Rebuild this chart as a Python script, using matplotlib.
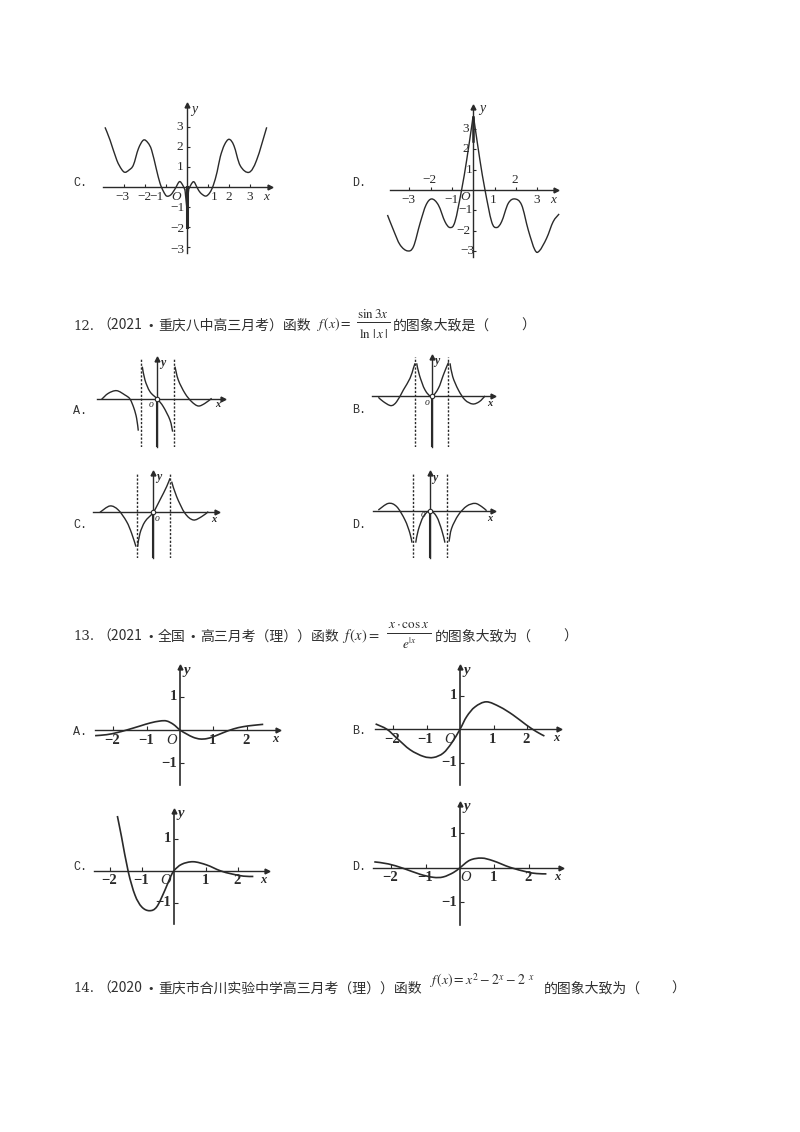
import matplotlib
matplotlib.use('Agg')
import matplotlib.pyplot as plt
from matplotlib.lines import Line2D
from matplotlib.patches import PathPatch
from matplotlib.path import Path

plt.rcParams['font.family'] = ['Noto Sans CJK SC', 'DejaVu Sans']
plt.rcParams['mathtext.fontset'] = 'stix'

W, H = 800, 1132
INK = '#2a2a2a'
SERIF = ['Liberation Serif', 'DejaVu Serif']

# page top, question 11 options
c11_left_x = [-3.89, -3.65, -3.33, -3.1, -2.94, -2.75, -2.54, -2.3, -2.06, -1.85, -1.67, -1.45, -1.27, -1.1, -0.95,
              -0.75, -0.55, -0.35, -0.2, -0.08]
c11_left_y = [2.97, 2.33, 1.33, 0.87, 0.72, 0.83, 1.08, 1.9, 2.33, 2.2, 1.83, 0.9, 0.17, -0.25, -0.47,
              -0.4, -0.1, 0.25, 0.1, -0.17]
c11_right_x = [0.1, 0.32, 0.5, 0.65, 0.9, 1.1, 1.27, 1.45, 1.6, 1.8, 2.02, 2.25, 2.55, 2.97, 3.33, 3.81]
c11_right_y = [-0.1, 0.25, -0.05, -0.3, -0.47, -0.3, 0.08, 0.75, 1.5, 2.1, 2.37, 2.05, 1.05, 0.72, 1.33, 2.97]
d11_x = [-4.03, -3.75, -3.44, -3.09, -2.81, -2.5, -2.22, -1.95, -1.64, -1.33, -1.09, -0.86, -0.55, -0.31, -0.08,
         0.0, 0.08, 0.31, 0.55, 0.86, 1.09, 1.33, 1.64, 1.95, 2.27, 2.58, 2.89, 3.1, 3.44, 3.75, 4.03]
d11_y = [-1.23, -1.97, -2.7, -3.0, -2.79, -1.64, -0.74, -0.44, -0.74, -1.56, -1.85, -1.56, 0.0, 1.48, 3.11,
         3.6, 3.11, 1.48, 0.0, -1.56, -1.85, -1.56, -0.66, -0.44, -0.74, -1.97, -2.95, -3.0, -2.38, -1.56, -1.18]

# question 12, each option has three branches
a12_branches = [
    ([-3.34, -2.94, -2.44, -1.94, -1.64, -1.4, -1.24, -1.14], [-0.02, 0.34, 0.5, 0.24, 0.0, -0.56, -1.16, -1.9]),
    ([-0.9, -0.74, -0.44, 0.0, 0.36, 0.76, 0.92], [1.94, 1.14, 0.44, 0.0, -0.46, -1.26, -1.96]),
    ([1.06, 1.26, 1.66, 2.06, 2.46, 2.86, 3.26], [1.94, 1.14, 0.34, -0.16, -0.42, -0.26, 0.04]),
]
b12_branches = [
    ([-3.2, -2.9, -2.44, -2.1, -1.7, -1.3, -1.1, -1.0], [-0.06, -0.32, -0.56, -0.32, 0.38, 1.08, 1.68, 1.98]),
    ([-0.9, -0.74, -0.4, 0.0, 0.4, 0.7, 0.94, 1.02], [1.98, 1.28, 0.38, 0.0, 0.48, 1.28, 1.88, 2.04]),
    ([1.1, 1.26, 1.6, 2.0, 2.46, 2.86, 3.2], [1.98, 1.18, 0.38, -0.22, -0.46, -0.32, 0.02]),
]
c12_branches = [
    ([-3.2, -2.6, -2.1, -1.6, -1.3, -1.04], [0.0, 0.38, 0.14, -0.56, -1.26, -2.06]),
    ([-0.94, -0.8, -0.5, 0.0, 0.4, 0.8, 1.0], [-2.06, -1.26, -0.56, 0.0, 0.74, 1.54, 2.04]),
    ([1.1, 1.4, 1.9, 2.4, 2.9, 3.3], [1.84, 0.94, -0.06, -0.46, -0.26, 0.04]),
]
d12_branches = [
    ([-3.04, -2.45, -1.96, -1.47, -1.18, -1.06], [0.04, 0.43, 0.24, -0.55, -1.33, -1.88]),
    ([-0.84, -0.69, -0.39, 0.0, 0.39, 0.69, 0.88], [-1.88, -1.14, -0.35, 0.0, -0.35, -1.14, -1.88]),
    ([1.12, 1.27, 1.67, 2.16, 2.65, 3.04, 3.33], [-1.82, -1.04, -0.25, 0.27, 0.43, 0.24, 0.0]),
]

# question 13
a13_x = [-2.55, -2.2, -1.9, -1.6, -1.2, -0.9, -0.6, -0.4, -0.2, 0.0, 0.2, 0.4, 0.6, 0.8, 1.0, 1.3, 1.6, 1.9, 2.2, 2.5]
a13_y = [-0.17, -0.14, -0.08, 0.0, 0.12, 0.21, 0.27, 0.27, 0.17, 0.0, -0.12, -0.22, -0.27, -0.26, -0.2, -0.08, 0.03, 0.1, 0.14, 0.17]
b13_x = [-2.52, -2.18, -1.88, -1.49, -1.09, -0.79, -0.5, -0.25, 0.0, 0.2, 0.45, 0.79, 1.19, 1.58, 1.98, 2.28, 2.52]
b13_y = [0.16, 0.0, -0.27, -0.61, -0.81, -0.84, -0.71, -0.41, 0.0, 0.38, 0.67, 0.82, 0.67, 0.43, 0.13, -0.07, -0.2]
c13_x = [-1.77, -1.64, -1.43, -1.22, -1.01, -0.77, -0.54, -0.28, -0.13, 0.0, 0.24, 0.6, 1.02, 1.44, 1.8, 2.17, 2.48]
c13_y = [1.71, 1.06, -0.03, -0.76, -1.13, -1.25, -1.13, -0.6, -0.24, 0.0, 0.2, 0.28, 0.18, 0.0, -0.1, -0.17, -0.18]
d13_x = [-2.5, -2.09, -1.65, -1.17, -0.78, -0.49, -0.19, 0.0, 0.29, 0.63, 0.97, 1.46, 1.94, 2.23, 2.52]
d13_y = [0.17, 0.11, -0.02, -0.19, -0.28, -0.27, -0.14, 0.0, 0.22, 0.28, 0.2, 0.01, -0.12, -0.17, -0.18]

x_ticks_11 = [-3, -2, -1, 1, 2, 3]
y_ticks_11 = [-3, -2, -1, 1, 2, 3]
x_ticks_13 = [-2, -1, 1, 2]
y_ticks_13 = [-1, 1]


def tick_text(v):
    return str(v).replace('-', '\u2212')


def panel(ox, oy, ux, uy, xlim, ylim):
    # ox, oy pixel position of the origin, ux, uy pixels per unit
    left = ox + xlim[0] * ux
    bottom = oy - ylim[0] * uy
    w = (xlim[1] - xlim[0]) * ux
    h = (ylim[1] - ylim[0]) * uy
    ax = fig.add_axes([left / W, 1 - bottom / H, w / W, h / H])
    ax.set_xlim(xlim)
    ax.set_ylim(ylim)
    ax.patch.set_alpha(0)
    for side in ['top', 'right']:
        ax.spines[side].set_visible(False)
    for side in ['left', 'bottom']:
        ax.spines[side].set_position('zero')
        ax.spines[side].set_linewidth(1.0)
        ax.spines[side].set_color(INK)
    ax.set_xticks([])
    ax.set_yticks([])
    ax.plot(1, 0, '>', ms=3.5, color=INK, transform=ax.get_yaxis_transform(), clip_on=False)
    ax.plot(0, 1, '^', ms=3.5, color=INK, transform=ax.get_xaxis_transform(), clip_on=False)
    return ax


def ticks(ax, xt, yt, length=2.5):
    ax.set_xticks(xt, labels=[])
    ax.set_yticks(yt, labels=[])
    ax.tick_params(axis='both', direction='in', length=length, width=0.8, color=INK)


def smooth(ax, xs, ys, lw=1.0):
    # bezier segments through the read points, so the curve has no corners
    pts = list(zip(xs, ys))
    verts = [pts[0]]
    codes = [Path.MOVETO]
    for i in range(len(pts) - 1):
        p0 = pts[max(i - 1, 0)]
        p1 = pts[i]
        p2 = pts[i + 1]
        p3 = pts[min(i + 2, len(pts) - 1)]
        c1 = (p1[0] + (p2[0] - p0[0]) / 6, p1[1] + (p2[1] - p0[1]) / 6)
        c2 = (p2[0] - (p3[0] - p1[0]) / 6, p2[1] - (p3[1] - p1[1]) / 6)
        verts += [c1, c2, p2]
        codes += [Path.CURVE4] * 3
    ax.add_patch(PathPatch(Path(verts, codes), fill=False, ec=INK, lw=lw, clip_on=False))


def note(ax, s, x, y, dx, dy, size=9, **kw):
    kw.setdefault('family', SERIF)
    ax.annotate(s, (x, y), xytext=(dx, dy), textcoords='offset pixels', ha='center', va='center',
                fontsize=size, color=INK, annotation_clip=False, **kw)


def page_text(x, y, s, size=10.0, **kw):
    fig.text(x / W, 1 - y / H, s, fontsize=size, color='#303030', va='center', **kw)


def bullet(x, y):
    page_text(x, y, '\u2022', size=8, family=['DejaVu Sans'])


def fraction(xc, y_line, half, top, bottom, y_top, y_bottom, size=9.5):
    fig.add_artist(Line2D([(xc - half) / W, (xc + half) / W], [1 - y_line / H] * 2, lw=0.7, color=INK))
    fig.text(xc / W, 1 - y_top / H, top, fontsize=size, ha='center', va='center', color=INK)
    fig.text(xc / W, 1 - y_bottom / H, bottom, fontsize=size, ha='center', va='center', color=INK)


fig = plt.figure(figsize=(W / 100, H / 100), dpi=100, facecolor='white')

# question 11 C
ax = panel(186.7, 186.7, 21, 20, (-3.97, 3.97), (-3.33, 4.1))
ticks(ax, x_ticks_11, y_ticks_11)
smooth(ax, c11_left_x, c11_left_y)
smooth(ax, c11_right_x, c11_right_y)
ax.plot([0, 0], [-2, 0], color=INK, lw=2.2)
ax.plot([-0.08, 0], [-0.17, -1.0], color=INK, lw=1.0)
ax.plot([0.1, 0], [-0.1, -1.0], color=INK, lw=1.0)
for v, dx in zip(x_ticks_11, [-1, 0, -9, 6, 0, 0]):
    note(ax, tick_text(v), v, 0, dx, -10, size=9.5)
for v, dy in zip(y_ticks_11, [-3, -2, -1, 0, 0, 0]):
    note(ax, tick_text(v), 0, v, -7 if v > 0 else -9, dy, size=9.5)
note(ax, 'x', 3.8, 0, 0, -10, size=9.5, style='italic')
note(ax, 'y', 0, 3.75, 8, 2, size=10, style='italic')
note(ax, 'O', -0.52, 0, 0, -10, size=9.5, style='italic')

# question 11 D
ax = panel(473.3, 190, 21.3, 20.3, (-3.9, 3.9), (-3.3, 4.1))
ticks(ax, x_ticks_11, y_ticks_11)
smooth(ax, d11_x, d11_y)
ax.plot([0, 0], [2.4, 3.6], color=INK, lw=1.8)
for v, dy in zip(x_ticks_11, [-10, 10, -10, -10, 10, -10]):
    note(ax, tick_text(v), v, 0, -1, dy, size=9.5)
for v, dx in zip(y_ticks_11, [-6, -10, -8, -4, -8, -8]):
    note(ax, tick_text(v), 0, v, dx, 0, size=9.5)
note(ax, 'x', 3.75, 0, 0, -10, size=9.5, style='italic')
note(ax, 'y', 0, 3.9, 9, 2, size=10, style='italic')
note(ax, 'O', -0.4, 0, 0, -7, size=9.5, style='italic')

# question 12
panels_12 = [
    (a12_branches, 157.3, 399.0, 16.67, (-3.64, 3.92), (-2.86, 2.38), (-0.36, -0.3), (3.65, -0.35)),
    (b12_branches, 431.7, 396.3, 16.67, (-3.56, 3.7), (-3.02, 2.34), (-0.27, -0.37), (3.5, -0.45)),
    (c12_branches, 153.3, 512.3, 16.67, (-3.6, 3.8), (-2.76, 2.34), (0.22, -0.35), (3.6, -0.45)),
    (d12_branches, 430.0, 510.7, 17.0, (-3.33, 3.73), (-2.8, 2.2), (-0.4, -0.25), (3.5, -0.45)),
]
for branches, ox, oy, u, xl, yl, o_pos, x_pos in panels_12:
    ax = panel(ox, oy, u, u, xl, yl)
    for bx, by in branches:
        smooth(ax, bx, by)
    for a in (-1, 1):
        ax.axvline(a, color=INK, lw=1.0, ls=(0, (1.6, 1.2)))
    ax.plot([0, 0], [yl[0], 0], color=INK, lw=1.5)
    ax.plot(0, 0, 'o', ms=3.2, mfc='white', mec=INK, mew=0.8, zorder=5)
    note(ax, 'o', o_pos[0], o_pos[1], 0, 0, size=7, style='italic')
    note(ax, 'x', x_pos[0], x_pos[1], 0, 0, size=7.5, style='italic', weight='bold')
    note(ax, 'y', 0.3, yl[1] - 0.25, 0, 0, size=8.5, style='italic', weight='bold')

# question 13
panels_13 = [
    (a13_x, a13_y, 180.0, 730.0, 33.3, (-2.55, 2.95), (-1.65, 1.88), -0.25),
    (b13_x, b13_y, 460.0, 729.3, 33.5, (-2.55, 2.97), (-1.65, 1.85), -0.3),
    (c13_x, c13_y, 174.0, 870.7, 32.0, (-2.5, 2.9), (-1.67, 1.87), -0.25),
    (d13_x, d13_y, 460.0, 867.7, 34.3, (-2.53, 2.95), (-1.67, 1.85), 0.15),
]
for cx, cy, ox, oy, u, xl, yl, o_x in panels_13:
    ax = panel(ox, oy, u, u, xl, yl)
    ticks(ax, x_ticks_13, y_ticks_13, length=3)
    ax.spines['left'].set_linewidth(1.2)
    smooth(ax, cx, cy, lw=1.2)
    for v in x_ticks_13:
        note(ax, tick_text(v), v, 0, -1, -10, size=10.5, weight='bold')
    for v in y_ticks_13:
        note(ax, tick_text(v), 0, v, -11 if v < 0 else -7, 0, size=10.5, weight='bold')
    note(ax, 'x', xl[1] - 0.1, 0, 0, -9, size=9, style='italic', weight='bold')
    note(ax, 'y', 0, yl[1] - 0.08, 7, 0, size=10.5, style='italic', weight='bold')
    note(ax, 'O', o_x, 0, 0, -10, size=10.5, style='italic')

# option letters
option_labels = ['C.', 'D.', 'A.', 'B.', 'C.', 'D.', 'A.', 'B.', 'C.', 'D.']
option_xs = [73, 352, 73, 352, 73, 352, 73, 352, 73, 352]
option_ys = [183, 183, 411, 410, 525, 525, 732, 731, 867, 867]
for s, x, y in zip(option_labels, option_xs, option_ys):
    page_text(x, y, s, size=8.5, family=['Liberation Mono', 'DejaVu Sans Mono'])

# question lines, pieces placed one by one to keep the spacing of the page
num_font = ['DejaVu Serif']
page_text(73, 326, '12.', family=num_font, size=9.5)
page_text(97, 326, '（2021')
bullet(147, 326)
page_text(158, 326, '重庆八中高三月考）函数')
page_text(316, 324, r'$f\,(x)=$', size=10)
fraction(373, 322, 16.5, r'$\sin 3x$', r'$\ln\,|\,x\,|$', 314, 334)
page_text(393, 326, '的图象大致是（')
page_text(521, 326, '）')

page_text(73, 637, '13.', family=num_font, size=9.5)
page_text(97, 637, '（2021')
bullet(147, 637)
page_text(158, 637, '全国')
bullet(189, 637)
page_text(200, 637, '高三月考（理））函数')
page_text(342, 636, r'$f\,(x)=$', size=10.5)
fraction(409, 633, 22, r'$x\cdot\cos x$', r'$e^{|x}$', 624, 644)
page_text(435, 637, '的图象大致为（')
page_text(563, 637, '）')

page_text(73, 989, '14.', family=num_font, size=9.5)
page_text(97, 989, '（2020')
bullet(147, 989)
page_text(158, 989, '重庆市合川实验中学高三月考（理））函数')
page_text(429, 981, r'$f\,(x)=x^{2}-2^{x}-2^{\ \ x}$', size=10)
page_text(544, 989, '的图象大致为（')
page_text(671, 989, '）')

fig.savefig('out.png', dpi=100)
